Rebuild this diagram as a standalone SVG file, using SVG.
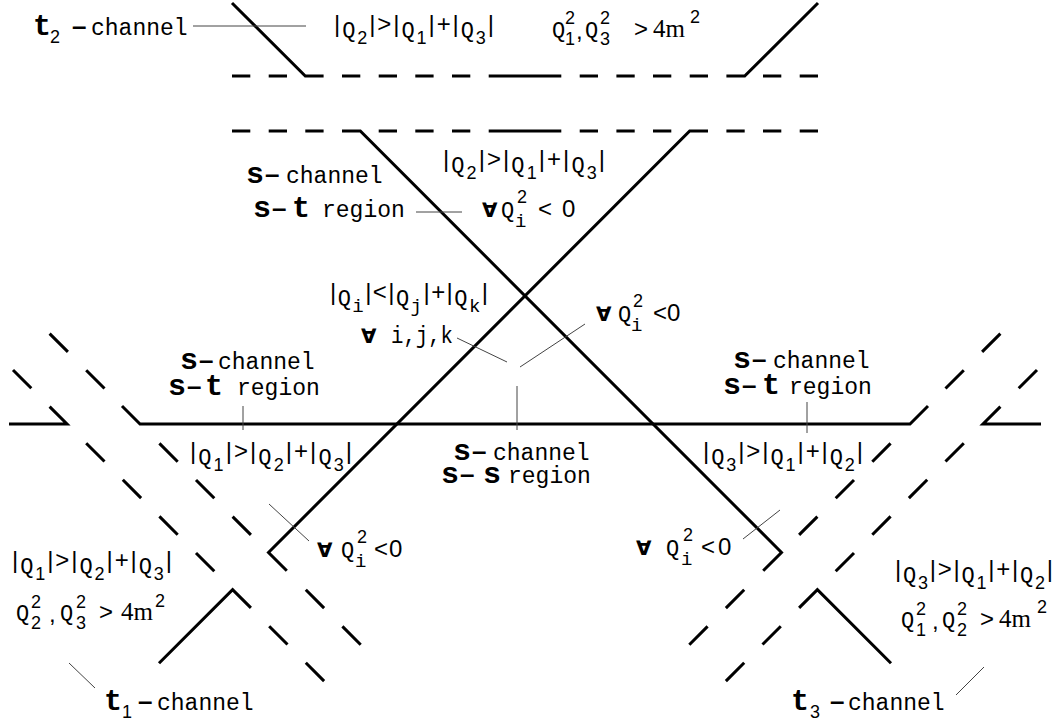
<svg xmlns="http://www.w3.org/2000/svg" xmlns:xlink="http://www.w3.org/1999/xlink" width="1061" height="724" viewBox="0 0 1061 724">
<style>
.ln{stroke:#000;stroke-width:3;fill:none;stroke-linecap:butt;stroke-linejoin:miter}
.ld{stroke:#444;stroke-width:1;fill:none}
text{fill:#000}
.big{font-family:"Liberation Mono",monospace;font-weight:bold;font-size:30px}
.dash{font-family:"Liberation Sans",Arial,sans-serif;font-weight:bold;font-size:26px}
.mono{font-family:"Liberation Mono",monospace;font-size:23px}
.op{font-family:"Liberation Sans",Arial,sans-serif;font-size:24px}
.q{font-family:"Liberation Mono",monospace;font-size:22px}
.sc{font-family:"Liberation Sans",Arial,sans-serif;font-size:18px}
.scm{font-family:"Liberation Mono",monospace;font-size:19px}
.fa{font-family:"DejaVu Sans",sans-serif;font-weight:bold;font-size:20px}
.ser{font-family:"Liberation Serif",serif;font-size:25px}
</style>
<defs>
<g id="topHalf">
<path class="ln" d="M232 76h18.3M268.7 76h18.3M232 3L305.3 76H323.6M342 76h18.3M378.7 76h18.3M415.3 76h18.3M452 76h18.3"/>
<path class="ln" d="M232 131h18.3M268.7 131h18.3M305.3 131h18.3M378.7 131h18.3M415.3 131h18.3M452 131h18.3"/>
</g>
<g id="t1Lines">
<path class="ln" d="M13 370L31.3 388.3M49.6 406.6L67 424H9M86.2 443.2L104.5 461.5M122.8 479.8L141.1 498.1M159.4 516.4L177.7 534.7M196 553L214.3 571.3M159 663.2L232.6 589.6L250.9 607.9M269.2 626.2L287.5 644.5M305.8 662.8L324.1 681.1"/>
<path class="ln" d="M49.6 333.6L67.9 351.9M86.2 370.2L104.5 388.5M159.4 443.4L177.7 461.7M196 480L214.3 498.3M232.6 516.6L250.9 534.9M305.8 589.8L324.1 608.1M342.4 626.4L360.7 644.7"/>
</g>
</defs>

<g id="lines">
<use xlink:href="#topHalf"/>
<use xlink:href="#topHalf" transform="matrix(-1 0 0 1 1050 0)"/>
<path class="ln" d="M488.7 76H561.3M488.7 131H561.3"/>
<path class="ln" d="M342 131H360.3L781.5 552.5L763.2 570.8"/>
<path class="ln" d="M708 131H689.7L268.5 552.5L286.8 570.8"/>
<path class="ln" d="M122 406L140 424H910L928 406"/>
<use xlink:href="#t1Lines"/>
<use xlink:href="#t1Lines" transform="matrix(-1 0 0 1 1050 0)"/>
</g>

<g id="leaders">
<path class="ld" d="M193 26H306"/>
<path class="ld" d="M416 212H462"/>
<path class="ld" d="M457 338L507 362"/>
<path class="ld" d="M585 324L520 367"/>
<path class="ld" d="M517 386V430"/>
<path class="ld" d="M243 406V430"/>
<path class="ld" d="M807 402V433"/>
<path class="ld" d="M269 504L309 541"/>
<path class="ld" d="M780 510L743 539"/>
<path class="ld" d="M69 663L95 688"/>
<path class="ld" d="M984 667L956 695"/>
</g>

<g id="t2-channel">
<text class="big" x="33" y="35">t</text>
<text class="sc" x="50" y="43">2</text>
<text class="dash" x="72" y="35">–</text>
<text class="mono" x="91" y="35">channel</text>
</g>

<g id="t2-condition">
<text x="334" y="32" textLength="160" lengthAdjust="spacing"><tspan class="op">|</tspan><tspan class="q" dy="5">Q</tspan><tspan class="sc" dy="7">2</tspan><tspan class="op" dy="-12">|&gt;|</tspan><tspan class="q" dy="5">Q</tspan><tspan class="sc" dy="7">1</tspan><tspan class="op" dy="-12">|+|</tspan><tspan class="q" dy="5">Q</tspan><tspan class="sc" dy="7">3</tspan><tspan class="op" dy="-12">|</tspan></text>
<text class="q" x="552" y="37">Q</text>
<text class="sc" x="565" y="24">2</text>
<text class="sc" x="565" y="45">1</text>
<text class="op" x="576" y="39">,</text>
<text class="q" x="585" y="37">Q</text>
<text class="sc" x="600" y="24">2</text>
<text class="sc" x="600" y="45">3</text>
<text class="op" x="634" y="37">&gt;</text>
<text class="ser" x="653" y="37">4m</text>
<text class="sc" x="690" y="23">2</text>
</g>

<g id="s-upper">
<text x="443" y="167" textLength="162" lengthAdjust="spacing"><tspan class="op">|</tspan><tspan class="q" dy="5">Q</tspan><tspan class="sc" dy="7">2</tspan><tspan class="op" dy="-12">|&gt;|</tspan><tspan class="q" dy="5">Q</tspan><tspan class="sc" dy="7">1</tspan><tspan class="op" dy="-12">|+|</tspan><tspan class="q" dy="5">Q</tspan><tspan class="sc" dy="7">3</tspan><tspan class="op" dy="-12">|</tspan></text>
<text y="183"><tspan class="big" x="246">s</tspan><tspan class="dash" x="265">–</tspan><tspan class="mono" x="286">channel</tspan></text>
<text y="217"><tspan class="big" x="253">s</tspan><tspan class="dash" x="272">–</tspan><tspan class="big" x="292">t</tspan><tspan class="mono" x="322">region</tspan></text>
<text class="fa" x="482" y="217">∀</text>
<text class="q" x="501" y="217">Q</text>
<text class="sc" x="517" y="203">2</text>
<text class="scm" x="515" y="227">i</text>
<text class="op" x="538" y="217">&lt;</text>
<text class="op" x="562" y="217">0</text>
</g>

<g id="center">
<text x="330" y="300" textLength="158" lengthAdjust="spacing"><tspan class="op">|</tspan><tspan class="q" dy="5">Q</tspan><tspan class="scm" dy="7">i</tspan><tspan class="op" dy="-12">|&lt;|</tspan><tspan class="q" dy="5">Q</tspan><tspan class="scm" dy="7">j</tspan><tspan class="op" dy="-12">|+|</tspan><tspan class="q" dy="5">Q</tspan><tspan class="scm" dy="7">k</tspan><tspan class="op" dy="-12">|</tspan></text>
<text class="fa" x="361" y="343">∀</text>
<text class="mono" x="391" y="343" textLength="62" lengthAdjust="spacingAndGlyphs">i,j,k</text>
<text class="fa" x="596" y="321">∀</text>
<text class="q" x="618" y="321">Q</text>
<text class="sc" x="633" y="307">2</text>
<text class="scm" x="631" y="331">i</text>
<text class="op" x="653" y="321">&lt;</text>
<text class="op" x="667" y="321">0</text>
</g>

<g id="s-left">
<text y="369"><tspan class="big" x="180">s</tspan><tspan class="dash" x="199">–</tspan><tspan class="mono" x="218">channel</tspan></text>
<text y="395"><tspan class="big" x="168">s</tspan><tspan class="dash" x="187">–</tspan><tspan class="big" x="205">t</tspan><tspan class="mono" x="237">region</tspan></text>
<text x="190" y="459" textLength="162" lengthAdjust="spacing"><tspan class="op">|</tspan><tspan class="q" dy="5">Q</tspan><tspan class="sc" dy="7">1</tspan><tspan class="op" dy="-12">|&gt;|</tspan><tspan class="q" dy="5">Q</tspan><tspan class="sc" dy="7">2</tspan><tspan class="op" dy="-12">|+|</tspan><tspan class="q" dy="5">Q</tspan><tspan class="sc" dy="7">3</tspan><tspan class="op" dy="-12">|</tspan></text>
<text class="fa" x="317" y="557">∀</text>
<text class="q" x="341" y="557">Q</text>
<text class="sc" x="357" y="543">2</text>
<text class="scm" x="355" y="567">i</text>
<text class="op" x="374" y="557">&lt;</text>
<text class="op" x="389" y="557">0</text>
</g>

<g id="s-right">
<text y="368"><tspan class="big" x="733">s</tspan><tspan class="dash" x="752">–</tspan><tspan class="mono" x="773">channel</tspan></text>
<text y="394"><tspan class="big" x="723">s</tspan><tspan class="dash" x="742">–</tspan><tspan class="big" x="762">t</tspan><tspan class="mono" x="789">region</tspan></text>
<text x="703" y="459" textLength="160" lengthAdjust="spacing"><tspan class="op">|</tspan><tspan class="q" dy="5">Q</tspan><tspan class="sc" dy="7">3</tspan><tspan class="op" dy="-12">|&gt;|</tspan><tspan class="q" dy="5">Q</tspan><tspan class="sc" dy="7">1</tspan><tspan class="op" dy="-12">|+|</tspan><tspan class="q" dy="5">Q</tspan><tspan class="sc" dy="7">2</tspan><tspan class="op" dy="-12">|</tspan></text>
<text class="fa" x="636" y="555">∀</text>
<text class="q" x="666" y="555">Q</text>
<text class="sc" x="683" y="541">2</text>
<text class="scm" x="681" y="565">i</text>
<text class="op" x="701" y="555">&lt;</text>
<text class="op" x="718" y="555">0</text>
</g>

<g id="s-s">
<text y="460"><tspan class="big" x="453">s</tspan><tspan class="dash" x="472">–</tspan><tspan class="mono" x="493">channel</tspan></text>
<text y="483"><tspan class="big" x="441">s</tspan><tspan class="dash" x="460">–</tspan><tspan class="big" x="483">s</tspan><tspan class="mono" x="508">region</tspan></text>
</g>

<g id="t1-channel">
<text x="12" y="568" textLength="160" lengthAdjust="spacing"><tspan class="op">|</tspan><tspan class="q" dy="5">Q</tspan><tspan class="sc" dy="7">1</tspan><tspan class="op" dy="-12">|&gt;|</tspan><tspan class="q" dy="5">Q</tspan><tspan class="sc" dy="7">2</tspan><tspan class="op" dy="-12">|+|</tspan><tspan class="q" dy="5">Q</tspan><tspan class="sc" dy="7">3</tspan><tspan class="op" dy="-12">|</tspan></text>
<text class="q" x="16" y="620">Q</text>
<text class="sc" x="31" y="608">2</text>
<text class="sc" x="31" y="629">2</text>
<text class="op" x="49" y="622">,</text>
<text class="q" x="60" y="620">Q</text>
<text class="sc" x="76" y="608">2</text>
<text class="sc" x="76" y="629">3</text>
<text class="op" x="99" y="620">&gt;</text>
<text class="ser" x="121" y="620">4m</text>
<text class="sc" x="155" y="607">2</text>
<text class="big" x="104" y="710">t</text>
<text class="sc" x="122" y="718">1</text>
<text class="dash" x="138" y="710">–</text>
<text class="mono" x="157" y="710">channel</text>
</g>

<g id="t3-channel">
<text x="895" y="577" textLength="158" lengthAdjust="spacing"><tspan class="op">|</tspan><tspan class="q" dy="5">Q</tspan><tspan class="sc" dy="7">3</tspan><tspan class="op" dy="-12">|&gt;|</tspan><tspan class="q" dy="5">Q</tspan><tspan class="sc" dy="7">1</tspan><tspan class="op" dy="-12">|+|</tspan><tspan class="q" dy="5">Q</tspan><tspan class="sc" dy="7">2</tspan><tspan class="op" dy="-12">|</tspan></text>
<text class="q" x="901" y="627">Q</text>
<text class="sc" x="916" y="615">2</text>
<text class="sc" x="916" y="636">1</text>
<text class="op" x="932" y="629">,</text>
<text class="q" x="942" y="627">Q</text>
<text class="sc" x="957" y="615">2</text>
<text class="sc" x="957" y="636">2</text>
<text class="op" x="980" y="627">&gt;</text>
<text class="ser" x="999" y="627">4m</text>
<text class="sc" x="1037" y="613">2</text>
<text class="big" x="791" y="710">t</text>
<text class="sc" x="810" y="718">3</text>
<text class="dash" x="830" y="710">–</text>
<text class="mono" x="848" y="710">channel</text>
</g>
</svg>
